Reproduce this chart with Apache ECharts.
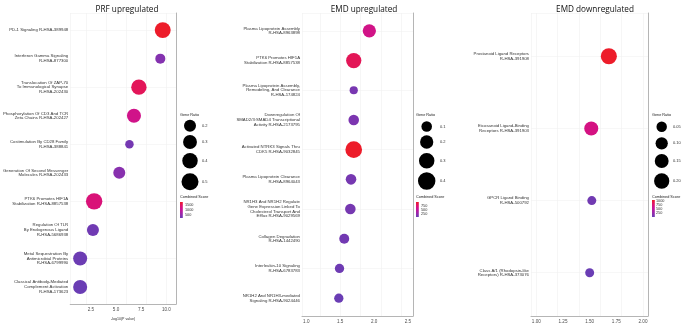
<!DOCTYPE html>
<html>
<head>
<meta charset="utf-8">
<script src="https://cdn.jsdelivr.net/npm/echarts@6/dist/echarts.min.js"></script>
<style>
html, body { margin: 0; padding: 0; background: #fff; }
#chart { width: 685px; height: 326px; }
</style>
</head>
<body>
<div id="chart"></div>
<script>
// PRF upregulated
var prfLabels = [
    'PD-1 Signaling R-HSA-389948',
    'Interferon Gamma Signaling\nR-HSA-877300',
    'Translocation Of ZAP-70\nTo Immunological Synapse\nR-HSA-202430',
    'Phosphorylation Of CD3 And TCR\nZeta Chains R-HSA-202427',
    'Costimulation By CD28 Family\nR-HSA-388841',
    'Generation Of Second Messenger\nMolecules R-HSA-202433',
    'PTK6 Promotes HIF1A\nStabilization R-HSA-8857538',
    'Regulation Of TLR\nBy Endogenous Ligand\nR-HSA-5686938',
    'Metal Sequestration By\nAntimicrobial Proteins\nR-HSA-6799990',
    'Classical Antibody-Mediated\nComplement Activation\nR-HSA-173623'
];
var prfLogP  = [9.64, 9.40, 7.27, 6.78, 6.33, 5.32, 2.82, 2.70, 1.43, 1.43];
var prfRatio = [0.43, 0.11, 0.39, 0.31, 0.05, 0.20, 0.46, 0.20, 0.31, 0.31];
var prfScore = [1760, 420, 1500, 1150, 300, 450, 1300, 260, 230, 210];

// EMD upregulated
var upLabels = [
    'Plasma Lipoprotein Assembly\nR-HSA-8963898',
    'PTK6 Promotes HIF1A\nStabilization R-HSA-8857538',
    'Plasma Lipoprotein Assembly,\nRemodeling, And Clearance\nR-HSA-174824',
    'Downregulation Of\nSMAD2/3:SMAD4 Transcriptional\nActivity R-HSA-2173795',
    'Activated NTRK3 Signals Thru\nCDK5 R-HSA-9032845',
    'Plasma Lipoprotein Clearance\nR-HSA-8964043',
    'NR1H3 And NR1H2 Regulate\nGene Expression Linked To\nCholesterol Transport And\nEfflux R-HSA-9029569',
    'Collagen Degradation\nR-HSA-1442490',
    'Interleukin-10 Signaling\nR-HSA-6783783',
    'NR1H2 And NR1H3-mediated\nSignaling R-HSA-9024446'
];
var upLogP  = [1.93, 1.70, 1.70, 1.70, 1.70, 1.66, 1.65, 1.56, 1.49, 1.48];
var upRatio = [0.20, 0.29, 0.03, 0.10, 0.36, 0.10, 0.10, 0.08, 0.06, 0.06];
var upScore = [620, 830, 110, 130, 980, 100, 100, 80, 60, 40];

// EMD downregulated
var downLabels = [
    'Prostanoid Ligand Receptors\nR-HSA-391908',
    'Eicosanoid Ligand-Binding\nReceptors R-HSA-391903',
    'GPCR Ligand Binding\nR-HSA-500792',
    'Class A/1 (Rhodopsin-like\nReceptors) R-HSA-373076'
];
var downLogP  = [1.68, 1.515, 1.52, 1.50];
var downRatio = [0.23, 0.155, 0.015, 0.015];
var downScore = [1070, 700, 60, 20];

// legend breaks
var prfRatioBreaks  = [0.2, 0.3, 0.4, 0.5];
var upRatioBreaks   = [0.1, 0.2, 0.3, 0.4];
var downRatioBreaks = [0.05, 0.10, 0.15, 0.20];
var prfScoreBreaks  = [500, 1000, 1500];
var upScoreBreaks   = [250, 500, 750];
var downScoreBreaks = [250, 500, 750, 1000];

// x tick labels
var prfTicks  = [2.5, 5.0, 7.5, 10.0];
var upTicks   = [1.0, 1.5, 2.0, 2.5];
var downTicks = [1.00, 1.25, 1.50, 1.75, 2.00];

var gradColors = ['#6a3db4', '#9a28aa', '#c5139c', '#de1270', '#ed1c2a'];
var fontName = 'Liberation Sans';

function sizeFn(a, b) {
    return function (v) { return 2 * Math.sqrt(a + b * v); };
}

// one object per panel: data + where it sits
var panels = [
    {
        title: 'PRF upregulated', titleX: 122,
        labels: prfLabels, x: prfLogP, ratio: prfRatio, score: prfScore,
        ticks: prfTicks, tickDigits: 1, xmin: 0.44, xmax: 10.96,
        left: 67, width: 109,
        size: sizeFn(12, 120), scoreMin: 210, scoreMax: 1760,
        ratioBreaks: prfRatioBreaks, ratioDigits: 1, scoreBreaks: prfScoreBreaks,
        legX: 180, circX: 190, circY: [125.7, 142, 160.7, 181.7], labX: 202,
        barX: 180, barTop: 202, barBottom: 218, barLabX: 185,
        xTitle: '-log10(P value)'
    },
    {
        title: 'EMD upregulated', titleX: 359,
        labels: upLabels, x: upLogP, ratio: upRatio, score: upScore,
        ticks: upTicks, tickDigits: 1, xmin: 0.937, xmax: 2.574,
        left: 302, width: 111,
        size: sizeFn(12, 160), scoreMin: 40, scoreMax: 980,
        ratioBreaks: upRatioBreaks, ratioDigits: 1, scoreBreaks: upScoreBreaks,
        legX: 416, circX: 426.7, circY: [126.5, 142, 160.7, 181], labX: 440,
        barX: 416, barTop: 202, barBottom: 217, barLabX: 421,
        xTitle: ''
    },
    {
        title: 'EMD downregulated', titleX: 590,
        labels: downLabels, x: downLogP, ratio: downRatio, score: downScore,
        ticks: downTicks, tickDigits: 2, xmin: 0.95, xmax: 2.047,
        left: 531, width: 117,
        size: sizeFn(17, 207), scoreMin: 20, scoreMax: 1070,
        ratioBreaks: downRatioBreaks, ratioDigits: 2, scoreBreaks: downScoreBreaks,
        legX: 652, circX: 661.7, circY: [126.7, 143.3, 161, 181], labX: 673,
        barX: 652, barTop: 200, barBottom: 217, barLabX: 656,
        xTitle: ''
    }
];

var chart = echarts.init(document.getElementById('chart'));

var grids = [], xAxes = [], yAxes = [], series = [], visualMaps = [], titles = [], graphics = [];
var topY = 13, plotH = 303;

panels.forEach(function (p, i) {
    grids.push({ left: p.left, top: topY, width: p.width, height: plotH });

    titles.push({
        text: p.title, left: p.titleX, top: 0.5, textAlign: 'center',
        textStyle: { fontFamily: 'Open Sans', fontSize: 8.2, fontWeight: 'normal', color: '#111' }
    });

    xAxes.push({
        gridIndex: i, type: 'value', min: p.xmin, max: p.xmax,
        name: p.xTitle, nameLocation: 'middle', nameGap: 6,
        nameTextStyle: { fontSize: 3.6, color: '#333', fontFamily: fontName },
        axisLine: { show: false }, axisTick: { show: false },
        axisLabel: {
            customValues: p.ticks, fontSize: 4.6, color: '#4d4d4d', margin: 3, fontFamily: fontName,
            formatter: function (v) { return v.toFixed(p.tickDigits); }
        },
        splitLine: { show: true, lineStyle: { color: '#f0f0f0', width: 0.6 } }
    });
    yAxes.push({
        gridIndex: i, type: 'value', min: -0.6, max: p.labels.length - 0.4, inverse: true,
        axisLine: { show: false }, axisTick: { show: false },
        axisLabel: {
            customValues: p.labels.map(function (_, k) { return k; }),
            fontSize: 4.3, lineHeight: 4.7, color: '#333', margin: 2, fontFamily: fontName,
            formatter: function (v) { return p.labels[Math.round(v)] || ''; }
        },
        splitLine: { show: true, lineStyle: { color: '#f2f2f2', width: 0.6 } }
    });

    series.push({
        type: 'scatter', xAxisIndex: i, yAxisIndex: i,
        data: p.labels.map(function (_, k) { return [p.x[k], k, p.ratio[k], p.score[k]]; }),
        symbolSize: function (d) { return p.size(d[2]); },
        itemStyle: { opacity: 1 },
        emphasis: { disabled: true }
    });

    visualMaps.push({
        type: 'continuous', show: false, seriesIndex: i, dimension: 3,
        min: p.scoreMin, max: p.scoreMax, inRange: { color: gradColors }
    });

    // size legend
    graphics.push({ type: 'text', left: p.legX, top: 112.5,
        style: { text: 'Gene Ratio', fontSize: 3.8, fill: '#222', fontFamily: fontName } });
    p.ratioBreaks.forEach(function (b, k) {
        graphics.push({ type: 'circle', shape: { cx: p.circX, cy: p.circY[k], r: p.size(b) / 2 },
            style: { fill: '#000' } });
        graphics.push({ type: 'text', x: p.labX, y: p.circY[k],
            style: { text: b.toFixed(p.ratioDigits), fontSize: 4, fill: '#333', fontFamily: fontName,
                     verticalAlign: 'middle' } });
    });

    // colour bar
    graphics.push({ type: 'text', left: p.legX, top: 195,
        style: { text: 'Combined Score', fontSize: 3.8, fill: '#222', fontFamily: fontName } });
    graphics.push({ type: 'rect',
        shape: { x: p.barX, y: p.barTop, width: 2.8, height: p.barBottom - p.barTop },
        style: { fill: new echarts.graphic.LinearGradient(0, 1, 0, 0, gradColors.map(function (c, k) {
            return { offset: k / (gradColors.length - 1), color: c };
        })) } });
    p.scoreBreaks.forEach(function (b) {
        var yy = p.barBottom - (b - p.scoreMin) / (p.scoreMax - p.scoreMin) * (p.barBottom - p.barTop);
        graphics.push({ type: 'text', x: p.barLabX, y: yy,
            style: { text: String(b), fontSize: 3.8, fill: '#333', fontFamily: fontName, verticalAlign: 'middle' } });
    });
});

// top and right border of each panel
panels.forEach(function (p, i) {
    xAxes.push({ gridIndex: i, type: 'value', position: 'top', min: p.xmin, max: p.xmax,
        axisLine: { show: true, lineStyle: { color: '#b5b5b5', width: 1 } },
        axisTick: { show: false }, axisLabel: { show: false }, splitLine: { show: false } });
    yAxes.push({ gridIndex: i, type: 'value', position: 'right', min: 0, max: 1,
        axisLine: { show: true, lineStyle: { color: '#b5b5b5', width: 1 } },
        axisTick: { show: false }, axisLabel: { show: false }, splitLine: { show: false } });
});

chart.setOption({
    backgroundColor: '#fff',
    animation: false,
    title: titles,
    grid: grids,
    xAxis: xAxes,
    yAxis: yAxes,
    visualMap: visualMaps,
    series: series,
    graphic: graphics
});
</script>
</body>
</html>
